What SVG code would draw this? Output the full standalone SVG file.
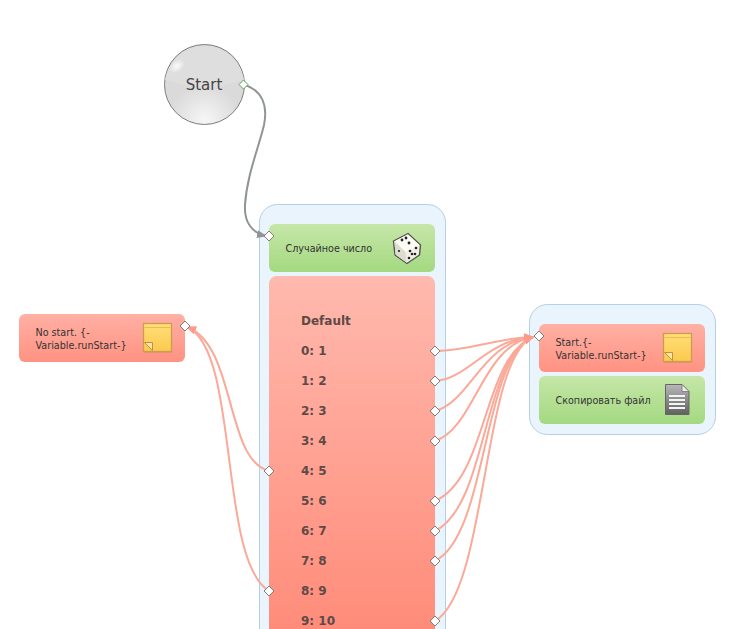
<svg xmlns="http://www.w3.org/2000/svg" width="740" height="629" viewBox="0 0 740 629">
<defs>
<linearGradient id="gGreen" x1="0" y1="0" x2="0" y2="1"><stop offset="0" stop-color="#c6e6a8"/><stop offset="1" stop-color="#a4d981"/></linearGradient>
<linearGradient id="gRed" x1="0" y1="0" x2="0" y2="1"><stop offset="0" stop-color="#ffb0a4"/><stop offset="1" stop-color="#ff9282"/></linearGradient>
<linearGradient id="gBig" gradientUnits="userSpaceOnUse" x1="0" y1="276" x2="0" y2="629"><stop offset="0" stop-color="#ffb9ae"/><stop offset="1" stop-color="#ff8c7a"/></linearGradient>
<linearGradient id="gNote" x1="0" y1="0" x2="0" y2="1"><stop offset="0" stop-color="#ffdf78"/><stop offset="1" stop-color="#fcc94e"/></linearGradient>
<linearGradient id="gDoc" x1="0" y1="0" x2="0" y2="1"><stop offset="0" stop-color="#b8b8b8"/><stop offset="1" stop-color="#606060"/></linearGradient>
<radialGradient id="gBall" gradientUnits="userSpaceOnUse" cx="204.500" cy="120" r="36"><stop offset="0" stop-color="#f6f6f6"/><stop offset="1" stop-color="#dadada"/></radialGradient>
<radialGradient id="gShine" cx="0.5" cy="0.5" r="0.5"><stop offset="0" stop-color="#fff" stop-opacity="0.9"/><stop offset="1" stop-color="#fff" stop-opacity="0"/></radialGradient>
<marker id="arrRed" markerUnits="userSpaceOnUse" markerWidth="11" markerHeight="9" refX="9" refY="4" orient="auto"><path d="M0 0 L10 4 L0 8 Z" fill="#ff9a88"/></marker>
<marker id="arrGray" markerUnits="userSpaceOnUse" markerWidth="11" markerHeight="9" refX="9" refY="4" orient="auto"><path d="M0 0 L10 4 L0 8 Z" fill="#8f9496"/></marker>
<g id="noteIcon">
<rect x="0.500" y="1.500" width="28" height="28" fill="#b08a50" opacity="0.35"/>
<rect x="0" y="0" width="28" height="28" fill="url(#gNote)" stroke="#cc9c50" stroke-width="1.300"/>
<line x1="1" y1="4" x2="27" y2="4" stroke="#eebb50" stroke-width="1"/>
<path d="M1 19 L9 27 L9 19 Z" fill="#ffe6a0" stroke="#c08f48" stroke-width="1"/>
</g>
</defs>
<style>
.box{stroke:none}
.txt{font-family:"DejaVu Sans",sans-serif;font-size:9.600px;fill:#333}
.lbl{font-family:"DejaVu Sans",sans-serif;font-size:12px;font-weight:bold;fill:#5c4a46}
.cont{fill:#eaf4fd;stroke:#b4d0e6;stroke-width:1}
.port{fill:#fff;stroke:#8a7a76;stroke-width:1}
.red{fill:none;stroke:#fba998;stroke-width:2;marker-end:url(#arrRed)}
</style>
<rect width="740" height="629" fill="#fff"/>

<g id="container-main">
<path class="cont" d="M259.500 640 V222.500 a18 18 0 0 1 18 -18 H427.500 a18 18 0 0 1 18 18 V640"/>
</g>
<g id="container-right">
<rect class="cont" x="529.500" y="304.500" width="186" height="130" rx="18"/>
</g>

<g id="node-start">
<circle cx="204.500" cy="84.500" r="40" fill="url(#gBall)" stroke="#7c7c7c" stroke-width="1"/>
<path d="M165 80 A40 40 0 0 1 244 80 Q204.500 92 165 80 Z" fill="#dedede"/>
<ellipse cx="177" cy="66" rx="9" ry="6" fill="url(#gShine)" transform="rotate(-40 177 66)"/>
<text x="204" y="89.500" text-anchor="middle" font-family="'DejaVu Sans',sans-serif" font-size="15" fill="#444">Start</text>
</g>

<g id="node-random">
<rect class="box" x="269" y="224" width="166" height="48" rx="6" fill="url(#gGreen)"/>
<text class="txt" x="285.500" y="251.500">Случайное число</text>
<g id="dice">
<path d="M393.500 241 L408 233.500 L420.500 245 L419.500 255 L407 263.500 L395 255 Z" fill="#f1f0e6" stroke="#57564e" stroke-width="1.400" stroke-linejoin="round"/>
<path d="M394.500 241.500 L408 234.500 L419.500 245 L405.500 252 Z" fill="#fbfbf5"/>
<path d="M394.500 241.500 L405.500 252 L407 263 L395.500 254.500 Z" fill="#dddcd0"/>
<g fill="#222">
<circle cx="402" cy="240" r="1.400"/><circle cx="406" cy="238" r="1.400"/><circle cx="409" cy="243" r="1.400"/><circle cx="413" cy="241" r="0"/>
<circle cx="410" cy="251" r="1.300"/><circle cx="416" cy="248" r="1.300"/><circle cx="412" cy="254" r="1.300"/><circle cx="409" cy="258" r="1.300"/><circle cx="415" cy="254" r="1.300"/>
<circle cx="399" cy="251" r="1.100"/>
</g>
</g>
</g>

<g id="node-switch">
<path class="box" d="M269 640 V284 a8 8 0 0 1 8 -8 H427 a8 8 0 0 1 8 8 V640 Z" fill="url(#gBig)"/>
<text class="lbl" x="301" y="325">Default</text>
<text class="lbl" x="301" y="355">0: 1</text>
<text class="lbl" x="301" y="385">1: 2</text>
<text class="lbl" x="301" y="415">2: 3</text>
<text class="lbl" x="301" y="445">3: 4</text>
<text class="lbl" x="301" y="475">4: 5</text>
<text class="lbl" x="301" y="505">5: 6</text>
<text class="lbl" x="301" y="535">6: 7</text>
<text class="lbl" x="301" y="565">7: 8</text>
<text class="lbl" x="301" y="595">8: 9</text>
<text class="lbl" x="301" y="625">9: 10</text>
</g>

<g id="node-nostart">
<rect class="box" x="19" y="314" width="166" height="48" rx="6" fill="url(#gRed)"/>
<text class="txt" x="35.500" y="335.500">No start. {-</text>
<text class="txt" x="35.500" y="348.500">Variable.runStart-}</text>
<use href="#noteIcon" x="143.500" y="323.500"/>
</g>

<g id="node-startnote">
<rect class="box" x="539" y="324" width="166" height="48" rx="6" fill="url(#gRed)"/>
<text class="txt" x="555.500" y="345.500">Start.{-</text>
<text class="txt" x="555.500" y="358.500">Variable.runStart-}</text>
<use href="#noteIcon" x="663.500" y="333.500"/>
</g>

<g id="node-copy">
<rect class="box" x="539" y="376" width="166" height="48" rx="6" fill="url(#gGreen)"/>
<text class="txt" x="555.500" y="403.500">Скопировать файл</text>
<g id="doc">
<path d="M665.500 384.500 H682 L689 391.500 V414.500 H665.500 Z" fill="url(#gDoc)" stroke="#666" stroke-width="1"/>
<path d="M682 384.500 L689 391.500 H682 Z" fill="#eee" stroke="#777" stroke-width="0.800"/>
<g fill="#f4f4f4"><rect x="669" y="395" width="16" height="2"/><rect x="669" y="399" width="16" height="2"/><rect x="669" y="403" width="16" height="2"/><rect x="669" y="407" width="16" height="2"/></g>
</g>
</g>

<g id="connectors">
<path d="M243.500 84.500 C262 90 268 105 264 125 C258 150 247 175 245 205 C244 222 252 233 266 236" fill="none" stroke="#8f9496" stroke-width="2" marker-end="url(#arrGray)"/>
<path class="red" d="M435 351 C470 351 495 338 533 337"/>
<path class="red" d="M435 381 C470 378 485 340 533 337"/>
<path class="red" d="M435 411 C470 402 482 342 533 337"/>
<path class="red" d="M435 441 C475 428 482 345 533 337"/>
<path class="red" d="M435 501 C488 478 482 358 533 337"/>
<path class="red" d="M435 531 C488 505 482 358 533 337"/>
<path class="red" d="M435 561 C488 535 482 358 533 337"/>
<path class="red" d="M435 621 C488 590 482 358 533 337"/>
<path class="red" d="M269 471 C225 460 236 345 187 327"/>
<path class="red" d="M269 591 C218 560 240 350 187 327"/>
</g>

<g id="ports">
<path d="M243.500 80 L248 84.500 L243.500 89 L239 84.500 Z" fill="#fff" stroke="#5fa05f"/>
<path class="port" d="M269 231 L274 236 L269 241 L264 236 Z"/>
<path class="port" d="M185 321 L190 326 L185 331 L180 326 Z"/>
<path class="port" d="M539 331 L544 336 L539 341 L534 336 Z"/>
<path class="port" d="M435 346 L440 351 L435 356 L430 351 Z"/>
<path class="port" d="M435 376 L440 381 L435 386 L430 381 Z"/>
<path class="port" d="M435 406 L440 411 L435 416 L430 411 Z"/>
<path class="port" d="M435 436 L440 441 L435 446 L430 441 Z"/>
<path class="port" d="M435 496 L440 501 L435 506 L430 501 Z"/>
<path class="port" d="M435 526 L440 531 L435 536 L430 531 Z"/>
<path class="port" d="M435 556 L440 561 L435 566 L430 561 Z"/>
<path class="port" d="M435 616 L440 621 L435 626 L430 621 Z"/>
<path class="port" d="M269 466 L274 471 L269 476 L264 471 Z"/>
<path class="port" d="M269 586 L274 591 L269 596 L264 591 Z"/>
</g>
</svg>
